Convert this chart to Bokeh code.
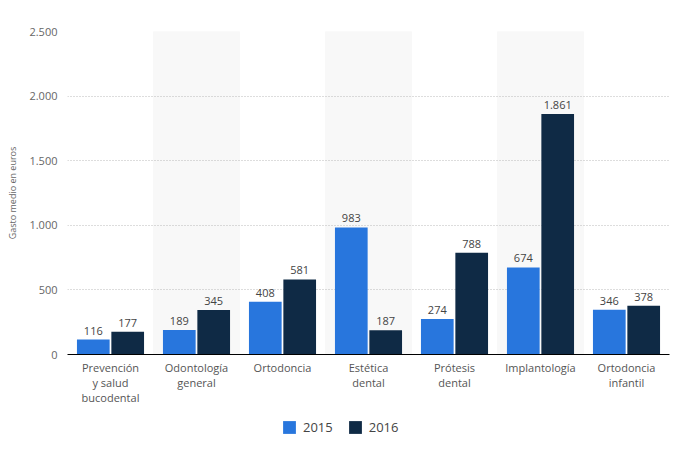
from bokeh.plotting import figure
from bokeh.layouts import column
from bokeh.models import Range1d, FixedTicker, Legend, LegendItem, ColumnDataSource
from bokeh.core.properties import value
from bokeh.transform import dodge
from bokeh.embed import file_html
from bokeh.resources import INLINE

categories = ["Prevención\ny salud\nbucodental", "Odontología\ngeneral", "Ortodoncia",
              "Estética\ndental", "Prótesis\ndental", "Implantología", "Ortodoncia\ninfantil"]
values_2015 = [116, 189, 408, 983, 274, 674, 346]
values_2016 = [177, 345, 581, 187, 788, 1861, 378]
series_names = ["2015", "2016"]
y_ticks = [0, 500, 1000, 1500, 2000, 2500]

FONT = "Open Sans"
C15 = "#2876DD"
C16 = "#0F2A45"

def fmt(v):
    return f"{v:,}".replace(",", ".")

idx = list(range(len(categories)))
src = ColumnDataSource(dict(
    x=idx, v15=values_2015, v16=values_2016,
    l15=[fmt(v) for v in values_2015], l16=[fmt(v) for v in values_2016],
))

p = figure(width=685, height=407, output_backend="svg", toolbar_location=None,
           x_range=Range1d(-0.5, len(categories) - 0.5), y_range=Range1d(0, 2500),
           min_border_left=67, min_border_right=16, min_border_top=31, min_border_bottom=53)
p.outline_line_color = None
p.background_fill_color = "white"
p.border_fill_color = "white"

# alternating bands
band_x = [i for i in idx if i % 2 == 1]
p.vbar(x=band_x, width=1, top=y_ticks[-1], bottom=0, color="#F8F8F8", level="image")

r15 = p.vbar(x=dodge("x", -0.2, range=p.x_range), top="v15", width=0.38, source=src,
             color=C15, line_color=None)
r16 = p.vbar(x=dodge("x", 0.2, range=p.x_range), top="v16", width=0.38, source=src,
             color=C16, line_color=None)

for off, col in [(-0.2, "v15"), (0.2, "v16")]:
    p.text(x=dodge("x", off, range=p.x_range), y=col, text=col.replace("v", "l"), source=src,
           text_align="center", text_baseline="bottom", y_offset=-5,
           text_font=value(FONT), text_font_size="11px", text_color="#444444")

# grid
p.xgrid.grid_line_color = None
p.ygrid.ticker = FixedTicker(ticks=y_ticks)
p.ygrid.grid_line_color = "#BBBBBB"
p.ygrid.grid_line_dash = "1 2"
p.ygrid.grid_line_width = 1

# y axis
p.yaxis.ticker = FixedTicker(ticks=y_ticks)
p.yaxis.major_label_overrides = {t: fmt(t) for t in y_ticks}
p.yaxis.axis_line_color = None
p.yaxis.major_tick_line_color = None
p.yaxis.minor_tick_line_color = None
p.yaxis.major_tick_out = 0
p.yaxis.major_tick_in = 0
p.yaxis.major_label_text_font = FONT
p.yaxis.major_label_text_font_size = "11px"
p.yaxis.major_label_text_color = "#666666"
p.yaxis.major_label_standoff = 10
p.yaxis.axis_label = "Gasto medio en euros"
p.yaxis.axis_label_text_font = FONT
p.yaxis.axis_label_text_font_size = "9px"
p.yaxis.axis_label_text_font_style = "normal"
p.yaxis.axis_label_text_color = "#666666"
p.yaxis.axis_label_standoff = 7

# x axis
p.xaxis.ticker = FixedTicker(ticks=idx)
p.xaxis.major_label_overrides = {i: c for i, c in zip(idx, categories)}
p.xaxis.axis_line_color = "#000000"
p.xaxis.axis_line_width = 1
p.xaxis.major_tick_line_color = None
p.xaxis.minor_tick_line_color = None
p.xaxis.major_tick_out = 0
p.xaxis.major_tick_in = 0
p.xaxis.major_label_text_font = FONT
p.xaxis.major_label_text_font_size = "11px"
p.xaxis.major_label_text_color = "#555555"
p.xaxis.major_label_text_line_height = 1.0
p.xaxis.major_label_standoff = 5

# legend in its own strip below the chart (proxy renderers lie outside the view)
pl = figure(width=685, height=42, output_backend="svg", toolbar_location=None,
            x_range=Range1d(0, 1), y_range=Range1d(0, 1),
            min_border=0, min_border_left=0, min_border_right=0,
            min_border_top=0, min_border_bottom=0)
pl.axis.visible = False
pl.grid.visible = False
pl.outline_line_color = None
lr15 = pl.vbar(x=[-10], top=[0], width=1, color=C15, line_color=None)
lr16 = pl.vbar(x=[-10], top=[0], width=1, color=C16, line_color=None)
legend = Legend(items=[LegendItem(label=series_names[0], renderers=[lr15]),
                       LegendItem(label=series_names[1], renderers=[lr16])],
                orientation="horizontal", location=(214, 13),
                padding=0, margin=0, spacing=14, label_standoff=6,
                glyph_width=16, glyph_height=16,
                label_text_font=FONT, label_text_font_size="13px", label_text_color="#444444",
                border_line_color=None, background_fill_alpha=0)
pl.add_layout(legend)

layout = column(p, pl, spacing=0)
open("out.html", "w").write(file_html(layout, INLINE))
